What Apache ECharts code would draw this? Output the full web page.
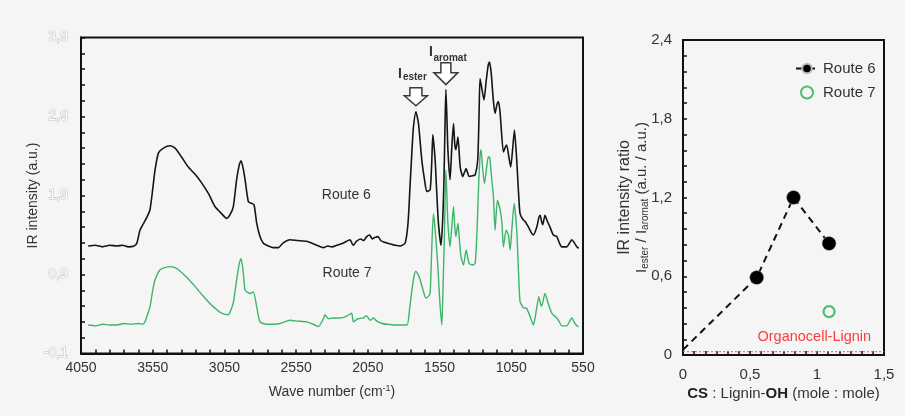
<!DOCTYPE html>
<html><head><meta charset="utf-8">
<script src="https://cdn.jsdelivr.net/npm/echarts@6/dist/echarts.min.js"></script>
<style>html,body{margin:0;padding:0;background:#f5f5f5}#c{width:905px;height:416px}</style>
</head><body><div id="c"></div>
<script>
// ---- Left panel: IR spectra ----
const waveR6 = [4000,3950,3900,3850,3800,3760,3720,3680,3660,3639,3610,3592,3569,3550,3534,3510,3475,3429,3394,3350,3302,3250,3209,3160,3116,3070,3034,3010,2988,2965,2945,2934,2920,2906,2883,2860,2843,2825,2802,2780,2755,2710,2674,2640,2593,2540,2476,2420,2360,2330,2300,2267,2220,2174,2160,2151,2130,2100,2080,2058,2038,2020,2000,1980,1960,1940,1918,1880,1860,1825,1790,1770,1755,1740,1732,1715,1697,1674,1655,1639,1616,1605,1597,1581,1570,1558,1540,1528,1520,1512,1506,1499,1492,1477,1465,1453,1444,1436,1422,1406,1388,1365,1344,1320,1302,1284,1275,1268,1255,1240,1225,1210,1202,1190,1175,1163,1150,1140,1128,1105,1090,1082,1068,1054,1040,1028,1012,1000,989,970,954,930,907,896,872,858,849,840,831,815,800,780,757,733,715,698,663,640,628,610,593,580];
const intR6 = [1.26,1.27,1.25,1.27,1.26,1.27,1.25,1.26,1.30,1.46,1.56,1.62,1.72,1.98,2.22,2.44,2.50,2.53,2.50,2.39,2.26,2.16,2.06,1.92,1.76,1.67,1.61,1.66,1.76,2.10,2.30,2.34,2.25,2.10,1.82,1.80,1.78,1.55,1.38,1.30,1.27,1.24,1.24,1.30,1.34,1.33,1.32,1.28,1.24,1.26,1.25,1.27,1.30,1.34,1.29,1.27,1.32,1.35,1.33,1.38,1.40,1.35,1.37,1.38,1.33,1.31,1.30,1.28,1.27,1.26,1.30,1.55,2.05,2.55,2.77,2.96,2.81,2.35,2.10,1.95,1.97,2.30,2.67,2.35,1.95,1.55,1.27,1.60,2.05,2.80,3.24,2.90,2.48,2.10,2.50,2.81,2.55,2.48,2.64,2.26,2.14,2.24,2.14,2.15,2.16,2.35,2.90,3.38,3.25,3.11,3.35,3.56,3.59,3.45,3.10,2.94,3.05,3.09,2.95,2.45,2.52,2.54,2.40,2.26,2.50,2.73,2.35,1.95,1.67,1.60,1.57,1.50,1.42,1.40,1.50,1.62,1.65,1.58,1.53,1.65,1.58,1.50,1.40,1.38,1.30,1.25,1.25,1.31,1.34,1.30,1.25,1.23];
const waveR7 = [4000,3950,3900,3850,3800,3750,3700,3650,3620,3604,3585,3569,3550,3534,3499,3460,3429,3400,3371,3310,3255,3200,3139,3100,3070,3023,3005,2988,2965,2945,2934,2920,2906,2885,2871,2848,2825,2802,2755,2700,2662,2593,2540,2476,2430,2395,2360,2349,2326,2290,2244,2200,2163,2151,2120,2081,2060,2035,2010,1988,1950,1918,1860,1778,1760,1743,1728,1715,1700,1685,1665,1645,1630,1616,1605,1593,1580,1562,1548,1534,1525,1516,1506,1499,1492,1477,1465,1453,1444,1436,1422,1410,1401,1383,1365,1344,1320,1302,1290,1279,1268,1261,1250,1237,1222,1210,1200,1186,1175,1163,1147,1128,1115,1105,1086,1070,1058,1045,1030,1012,1000,989,966,943,919,896,875,858,845,838,815,790,768,733,715,698,663,640,628,610,593,580];
const intR7 = [0.26,0.25,0.27,0.26,0.26,0.28,0.27,0.28,0.27,0.30,0.40,0.49,0.70,0.83,0.96,0.99,1.00,0.99,0.96,0.86,0.75,0.63,0.51,0.45,0.41,0.39,0.45,0.54,0.83,1.05,1.10,0.95,0.70,0.67,0.66,0.68,0.49,0.30,0.27,0.27,0.28,0.32,0.31,0.30,0.27,0.24,0.34,0.39,0.34,0.35,0.35,0.37,0.41,0.30,0.34,0.35,0.38,0.32,0.35,0.31,0.28,0.27,0.26,0.26,0.45,0.70,0.88,0.94,0.90,0.83,0.70,0.60,0.62,0.66,1.20,1.67,1.45,1.00,0.55,0.26,0.80,1.42,2.22,1.90,1.55,1.25,1.50,1.76,1.50,1.38,1.55,1.30,1.13,1.02,1.21,1.04,1.02,1.04,1.40,1.97,2.40,2.48,2.25,2.05,2.25,2.39,2.38,2.10,1.90,1.46,1.84,1.72,1.55,1.25,1.46,1.40,1.21,1.50,1.80,1.46,0.95,0.56,0.48,0.47,0.37,0.26,0.45,0.62,0.52,0.50,0.66,0.52,0.41,0.35,0.30,0.25,0.25,0.32,0.35,0.29,0.25,0.24];
const leftXTickLabels = ['4050','3550','3050','2550','2050','1550','1050','550'];
const leftYTickLabels = ['-0,1','0,9','1,9','2,9','3,9'];

// ---- Right panel: intensity ratio ----
const csRoute6 = [0, 0.55, 0.825, 1.09];
const ratioRoute6 = [0.04, 0.59, 1.2, 0.85];
const csRoute7 = [1.09];
const ratioRoute7 = [0.33];
const organocellRatio = 0.025;
const rightXTickLabels = ['0','0,5','1','1,5'];
const rightYTickLabels = ['0','0,6','1,2','1,8','2,4'];

const FONT = '"Liberation Sans", Arial, sans-serif';
const zip = (a, b) => a.map((v, i) => [v, b[i]]);

const chart = echarts.init(document.getElementById('c'), null, {renderer: 'canvas'});

const tickStyle = {show: true, inside: true, length: 4, lineStyle: {color: '#111', width: 1.5}};
const minorStyle = (n) => ({show: true, splitNumber: n, length: 4, lineStyle: {color: '#111', width: 1.5}});

const r6data = csRoute6.map((x, i) => i === 0 ? {value: [x, ratioRoute6[i]], symbol: 'none'} : [x, ratioRoute6[i]]);

const option = {
  backgroundColor: '#f5f5f5',
  animation: false,
  textStyle: {fontFamily: FONT},
  grid: [
    {left: 81, top: 37.5, width: 502, height: 316, show: true, borderColor: '#111', borderWidth: 2, backgroundColor: 'transparent'},
    {left: 683, top: 40, width: 201, height: 315, show: true, borderColor: '#111', borderWidth: 2, backgroundColor: 'transparent'}
  ],
  xAxis: [
    {gridIndex: 0, type: 'value', min: 550, max: 4050, inverse: true, show: false},
    {gridIndex: 0, type: 'value', min: 0, max: 3500, interval: 500, position: 'bottom',
     axisLine: {show: true, lineStyle: {color: '#111', width: 2}},
     axisTick: tickStyle, minorTick: minorStyle(5), splitLine: {show: false},
     axisLabel: {margin: 8, fontSize: 14, color: '#333', fontFamily: FONT,
       formatter: (v) => leftXTickLabels[Math.round(v / 500)]},
     name: 'Wave number (cm{sup|-1})', nameLocation: 'middle', nameGap: 31, nameMoveOverlap: false,
     nameTextStyle: {fontSize: 14, color: '#333', fontFamily: FONT,
       rich: {sup: {fontSize: 9, color: '#333', verticalAlign: 'top', lineHeight: 16, padding: [0,0,6,0]}}}},
    {gridIndex: 1, type: 'value', min: 0, max: 1.5, interval: 0.5, position: 'bottom',
     axisLine: {show: true, lineStyle: {color: '#111', width: 2}},
     axisTick: tickStyle, minorTick: minorStyle(6), splitLine: {show: false},
     axisLabel: {margin: 12, fontSize: 15, color: '#333', fontFamily: FONT,
       formatter: (v) => rightXTickLabels[Math.round(v / 0.5)]},
     name: '{b|CS} : Lignin-{b|OH} (mole : mole)', nameLocation: 'middle', nameGap: 31, nameMoveOverlap: false,
     nameTextStyle: {fontSize: 15, color: '#333', fontFamily: FONT,
       rich: {b: {fontSize: 15, fontWeight: 'bold', color: '#222', fontFamily: FONT}}}}
  ],
  yAxis: [
    {gridIndex: 0, type: 'value', min: -0.1, max: 3.9, show: false},
    {gridIndex: 0, type: 'value', min: 0, max: 4, interval: 1, position: 'left',
     axisLine: {show: true, lineStyle: {color: '#111', width: 2}},
     axisTick: tickStyle, minorTick: minorStyle(5), splitLine: {show: false},
     axisLabel: {margin: 13, fontSize: 14, color: '#ffffff', textBorderColor: '#c4c4c4', textBorderWidth: 1.2, fontFamily: FONT,
       formatter: (v) => leftYTickLabels[Math.round(v)]},
     name: 'IR intensity (a.u.)', nameLocation: 'middle', nameGap: 41, nameMoveOverlap: false,
     nameTextStyle: {fontSize: 14, color: '#333', fontFamily: FONT}},
    {gridIndex: 1, type: 'value', min: 0, max: 2.4, interval: 0.6, position: 'left',
     axisLine: {show: true, lineStyle: {color: '#111', width: 2}},
     axisTick: tickStyle, minorTick: minorStyle(5), splitLine: {show: false},
     axisLabel: {margin: 11, fontSize: 15, color: '#333', fontFamily: FONT,
       formatter: (v) => rightYTickLabels[Math.round(v / 0.6)]},
     name: '{h|IR intensity ratio}\n{t|I}{s|ester}{t| / I}{s|aromat}{t| (a.u. / a.u.)}',
     nameLocation: 'middle', nameGap: 33, nameMoveOverlap: false,
     nameTextStyle: {fontSize: 15, color: '#333', fontFamily: FONT,
       rich: {h: {fontSize: 16, lineHeight: 17, color: '#333', fontFamily: FONT},
              t: {fontSize: 15, lineHeight: 17, color: '#333', fontFamily: FONT},
              s: {fontSize: 10, lineHeight: 17, color: '#333', verticalAlign: 'bottom', fontFamily: FONT}}}}
  ],
  legend: {
    data: ['Route 6', 'Route 7'], orient: 'vertical', left: 790, top: 56,
    itemWidth: 22, itemHeight: 12, itemGap: 9,
    textStyle: {fontSize: 15, color: '#333', fontFamily: FONT}
  },
  series: [
    {name: 'Route 6 spectrum', type: 'line', xAxisIndex: 0, yAxisIndex: 0, data: zip(waveR6, intR6),
     showSymbol: false, symbol: 'none', smooth: 0.2, lineStyle: {color: '#151515', width: 1.6}, silent: true},
    {name: 'Route 7 spectrum', type: 'line', xAxisIndex: 0, yAxisIndex: 0, data: zip(waveR7, intR7),
     showSymbol: false, symbol: 'none', smooth: 0.2, lineStyle: {color: '#3db56a', width: 1.4}, silent: true},
    {name: 'Organocell-Lignin', type: 'line', xAxisIndex: 2, yAxisIndex: 2,
     data: [[0, organocellRatio], [1.5, organocellRatio]], symbol: 'none',
     lineStyle: {color: '#ff4d4d', width: 1, type: [2, 2]}, silent: true},
    {name: 'Route 6', type: 'line', xAxisIndex: 2, yAxisIndex: 2, data: r6data,
     symbol: 'circle', symbolSize: 14, itemStyle: {color: '#000', borderColor: '#bbb', borderWidth: 0.5},
     lineStyle: {color: '#111', width: 2, type: [7, 5]}},
    {name: 'Route 7', type: 'scatter', xAxisIndex: 2, yAxisIndex: 2, data: zip(csRoute7, ratioRoute7),
     symbol: 'circle', symbolSize: 11, itemStyle: {color: 'transparent', borderColor: '#22b14c', borderWidth: 2.2}}
  ]
};
chart.setOption(option);

function arrow(cx, ty, sh, hh, headLen, shaftLen) {
  const hy = ty - headLen, top = hy - shaftLen;
  return {type: 'polygon', z: 100,
    shape: {points: [[cx - sh, top], [cx + sh, top], [cx + sh, hy], [cx + hh, hy], [cx, ty], [cx - hh, hy], [cx - sh, hy]]},
    style: {fill: '#ffffff', stroke: '#3a3a3a', lineWidth: 1.5}};
}
function txt(x, y, text, size, bold, color, align) {
  return {type: 'text', x: x, y: y, z: 100,
    style: {text: text, fontSize: size, fontWeight: bold ? 'bold' : 'normal', fontFamily: FONT,
      fill: color || '#333', align: align || 'left', verticalAlign: 'middle'}};
}
const pe = chart.convertToPixel({seriesIndex: 0}, [1715, 2.96]);
const pa = chart.convertToPixel({seriesIndex: 0}, [1506, 3.24]);
const l6 = chart.convertToPixel({seriesIndex: 0}, [2200, 1.91]);
const l7 = chart.convertToPixel({seriesIndex: 0}, [2195, 0.92]);
const og = chart.convertToPixel({seriesIndex: 2}, [0.98, 0.14]);
chart.setOption({graphic: [
  arrow(pe[0], pe[1] - 6, 6, 11.5, 10, 8),
  arrow(pa[0], pa[1] - 5, 5, 12, 12, 10),
  txt(pe[0] - 18, 74.5, 'I', 14, true, '#333'),
  txt(pe[0] - 13, 77, 'ester', 10, true, '#333'),
  txt(pa[0] - 17, 52, 'I', 14, true, '#333'),
  txt(pa[0] - 12.5, 58.5, 'aromat', 10, true, '#333'),
  txt(l6[0], l6[1], 'Route 6', 14, false, '#333', 'center'),
  txt(l7[0], l7[1], 'Route 7', 14, false, '#333', 'center'),
  txt(og[0], og[1], 'Organocell-Lignin', 14.5, false, '#ff3b3b', 'center')
]});
</script></body></html>
